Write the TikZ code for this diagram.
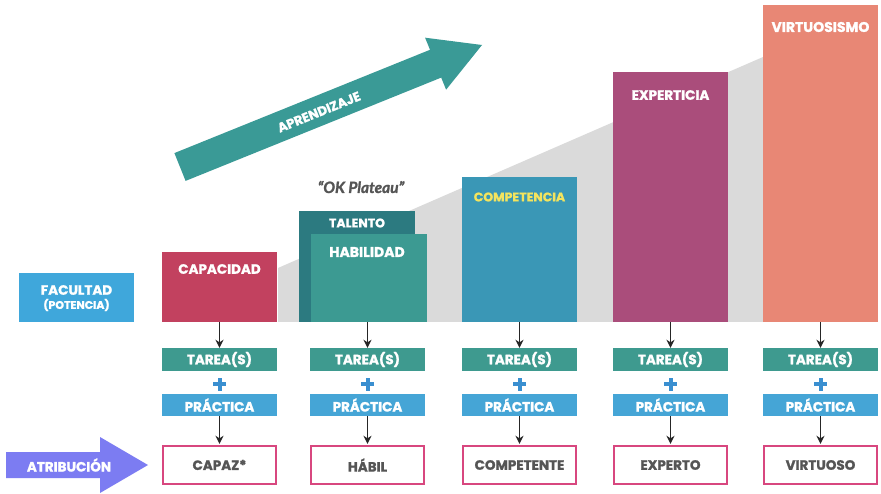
\documentclass[tikz,border=0pt]{standalone}
\usepackage{fontspec}
\setmainfont{Poppins}[BoldFeatures={FakeBold=1.3}]
\newfontfamily\platfont{Lato}[BoldItalicFeatures={FakeBold=1.5}]
\usetikzlibrary{arrows.meta}

\definecolor{cFac}{HTML}{3FA7DB}
\definecolor{cCap}{HTML}{C2415F}
\definecolor{cTal}{HTML}{2C7A80}
\definecolor{cHab}{HTML}{3C9A92}
\definecolor{cCom}{HTML}{3A97B6}
\definecolor{cComTxt}{HTML}{F3E45E}
\definecolor{cExp}{HTML}{AA4D7B}
\definecolor{cVir}{HTML}{E88775}
\definecolor{cTar}{HTML}{3E9A8F}
\definecolor{cPra}{HTML}{45A5D6}
\definecolor{cPlus}{HTML}{3A8FD0}
\definecolor{cRes}{HTML}{D8477F}
\definecolor{cResTxt}{HTML}{555555}
\definecolor{cAtr}{HTML}{7C7CF2}
\definecolor{cApr}{HTML}{3A9A96}
\definecolor{cWedge}{HTML}{DADADA}

\tikzset{
  stage/.style={inner sep=0pt, minimum width=115pt},
  ttl/.style={text=white, font=\fontsize{13.5}{14}\selectfont\bfseries, inner sep=0pt},
  bar/.style={inner sep=0pt, minimum width=115pt, text=white,
              font=\fontsize{13.5}{14}\selectfont\bfseries},
  result/.style={draw=cRes, line width=2.4pt, fill=white, inner sep=0pt,
                 minimum width=113pt, minimum height=38pt, text=cResTxt,
                 font=\fontsize{13.5}{14}\selectfont\bfseries},
  conn/.style={draw=black!85, line width=1.5pt, -{Stealth[length=8pt,width=8pt]}},
  plus/.style={inner sep=0pt, minimum size=13pt,
               path picture={\fill[cPlus] ([xshift=-6.5pt,yshift=-2pt]path picture bounding box.center) rectangle ++(13pt,4pt);
                             \fill[cPlus] ([xshift=-2pt,yshift=-6.5pt]path picture bounding box.center) rectangle ++(4pt,13pt);}}
}

\begin{document}
\begin{tikzpicture}[x=1pt,y=-1pt]
\useasboundingbox (0,0) rectangle (881,494);
\fill[white] (0,0) rectangle (881,494);

% rising grey wedge behind the stages
\fill[cWedge] (278,268) -- (763,57) -- (763,322) -- (278,322) -- cycle;

% learning arrow
\fill[cApr] (174.4,153.1) -- (430.0,49.8) -- (425.1,37.7) -- (482,45)
  -- (446.1,89.7) -- (441.2,77.6) -- (185.6,180.9) -- cycle;
\node[ttl, rotate=22, font=\fontsize{13}{13}\selectfont\bfseries] (apr) at (319,112) {APRENDIZAJE};

% faculty label
\node[stage, fill=cFac, minimum height=49pt] (fac) at (76.5,297.5) {};
\node[ttl] (facT) at (76.5,290) {FACULTAD};
\node[ttl, font=\fontsize{11}{11}\selectfont\bfseries] (facS) at (76.5,305) {(POTENCIA)};

% stage boxes
\node[stage, fill=cCap, minimum height=70pt] (cap) at (219.5,287) {};
\node[ttl] (capT) at (219.5,269) {CAPACIDAD};

\node[stage, fill=cTal, minimum height=111pt, minimum width=116pt] (tal) at (357,266.5) {};
\node[ttl, font=\fontsize{12.5}{13}\selectfont\bfseries] (talT) at (357,223) {TALENTO};
\node[stage, fill=cHab, minimum height=88pt, minimum width=116pt] (hab) at (369,278) {};
\node[ttl, font=\fontsize{14}{14}\selectfont\bfseries] (habT) at (367,252) {HABILIDAD};
\node[text=cResTxt, font=\platfont\fontsize{15.5}{16}\selectfont\bfseries\itshape, inner sep=0pt] (plat) at (361,187) {“OK Plateau”};

\node[stage, fill=cCom, minimum height=145pt] (com) at (519.5,249.5) {};
\node[ttl, text=cComTxt, font=\fontsize{12.5}{13}\selectfont\bfseries] (comT) at (519.5,197) {COMPETENCIA};

\node[stage, fill=cExp, minimum height=250pt] (exp) at (670.5,197) {};
\node[ttl] (expT) at (670.5,95) {EXPERTICIA};

\node[stage, fill=cVir, minimum height=317pt] (vir) at (820.5,163.5) {};
\node[ttl, font=\fontsize{14}{14}\selectfont\bfseries] (virT) at (820.5,27) {VIRTUOSISMO};

% task + practice rows and results
\foreach \n/\cx/\res in {1/219.5/CAPAZ*, 2/367.5/HÁBIL, 3/519.5/COMPETENTE, 4/670.5/EXPERTO, 5/820.5/VIRTUOSO}{
  \node[bar, fill=cTar, minimum height=23pt] (t\n) at (\cx,359.5) {TAREA(S)};
  \node[plus] (p\n) at (\cx,384) {};
  \node[bar, fill=cPra, minimum height=22pt] (q\n) at (\cx,405) {PRÁCTICA};
  \node[result] (r\n) at (\cx,465) {\res};
  \draw[conn] (q\n.south) -- ([yshift=1pt]r\n.north);
}

% arrows from stages into tasks
\draw[conn] (cap.south) -- (t1.north);
\draw[conn] (t2.north |- hab.south) -- (t2.north);
\draw[conn] (com.south) -- (t3.north);
\draw[conn] (exp.south) -- (t4.north);
\draw[conn] (vir.south) -- (t5.north);

% attribution arrow
\fill[cAtr] (6,452) -- (100,452) -- (100,437) -- (148,465) -- (100,493) -- (100,478) -- (6,478) -- cycle;
\node[ttl] (atr) at (69,465) {ATRIBUCIÓN};
\end{tikzpicture}
\end{document}
